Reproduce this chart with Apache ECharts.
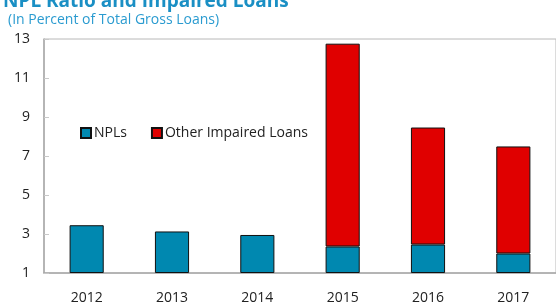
<!DOCTYPE html>
<html>
<head>
<meta charset="utf-8">
<script src="https://cdn.jsdelivr.net/npm/echarts@6/dist/echarts.min.js"></script>
<style>
  html, body { margin: 0; padding: 0; background: #fff; }
  #chart { width: 556px; height: 305px; }
</style>
</head>
<body>
<div id="chart"></div>
<script>
const years = ["2012", "2013", "2014", "2015", "2016", "2017"];
const npls = [3.45, 3.13, 2.95, 2.36, 2.46, 2.0];
const otherImpaired = [0, 0, 0, 10.4, 6.0, 5.49];
const yTicks = [1, 3, 5, 7, 9, 11, 13];

// axis starts at 1, so shift the scale by one and relabel
const base = yTicks[0];
const font = "'Open Sans', 'Noto Sans', sans-serif";

const chart = echarts.init(document.getElementById("chart"), null, { renderer: "canvas" });

chart.setOption({
  animation: false,
  title: [
    {
      text: "NPL Ratio and Impaired Loans",
      left: -2,
      top: -13,
      textStyle: { color: "#1a8fc4", fontSize: 19, fontWeight: "bold", fontFamily: font }
    },
    {
      text: "(In Percent of Total Gross Loans)",
      left: 3,
      top: 8,
      textStyle: { color: "#2a9bd0", fontSize: 14, fontWeight: "normal", fontFamily: font }
    }
  ],
  legend: {
    left: 75,
    top: 121,
    itemWidth: 10,
    itemHeight: 10,
    itemGap: 24,
    icon: "rect",
    textStyle: { fontSize: 14, color: "#222", fontFamily: font, padding: [0, 0, 0, -2] },
    data: ["NPLs", "Other Impaired Loans"]
  },
  grid: {
    left: 44,
    top: 39,
    right: -3,
    bottom: 29,
    show: true,
    borderColor: "#b8b8b8",
    borderWidth: 1
  },
  xAxis: {
    type: "category",
    data: years,
    axisLine: { lineStyle: { color: "#a8a8a8", width: 1.5 } },
    axisTick: { inside: true, length: 5, lineStyle: { color: "#a8a8a8" } },
    axisLabel: { color: "#222", fontSize: 14, margin: 18, fontFamily: font }
  },
  yAxis: {
    type: "value",
    min: 0,
    max: yTicks[yTicks.length - 1] - base,
    interval: 2,
    axisLine: { show: true, lineStyle: { color: "#a8a8a8", width: 1.5 } },
    axisTick: { show: true, inside: true, length: 5, lineStyle: { color: "#c8c8c8" } },
    splitLine: { show: false },
    axisLabel: {
      color: "#222",
      fontSize: 14,
      margin: 14,
      fontFamily: font,
      formatter: (v) => String(v + base)
    }
  },
  series: [
    {
      name: "NPLs",
      type: "bar",
      stack: "total",
      barWidth: "40%",
      itemStyle: { color: "#0088b0", borderColor: "#111", borderWidth: 1 },
      data: npls.map((v) => +(v - base).toFixed(2))
    },
    {
      name: "Other Impaired Loans",
      type: "bar",
      stack: "total",
      barWidth: "40%",
      itemStyle: { color: "#e00000", borderColor: "#111", borderWidth: 1 },
      data: otherImpaired.map((v) => (v === 0 ? "-" : v))
    }
  ]
});
</script>
</body>
</html>
